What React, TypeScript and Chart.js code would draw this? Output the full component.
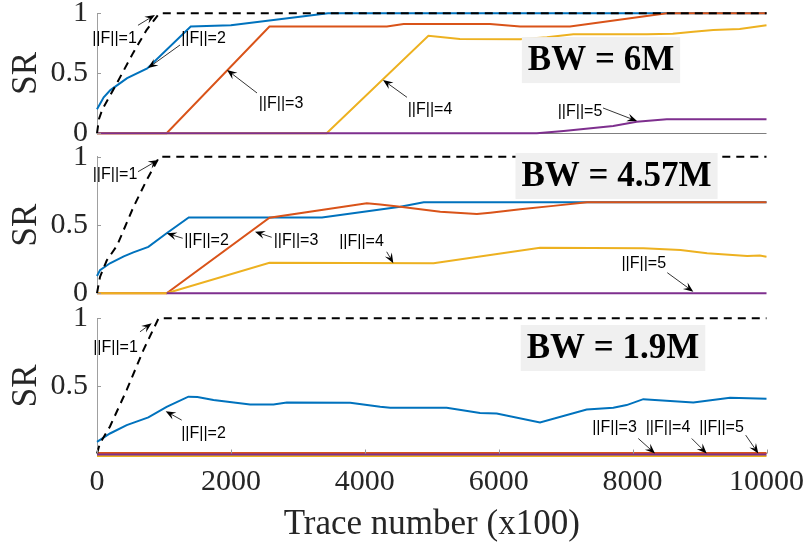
import React, { useEffect, useRef } from 'react';
import Chart from 'chart.js/auto';

// ---------- shared ----------
const X_MIN = 0;
const X_MAX = 10000;
const xTickValues = [0, 2000, 4000, 6000, 8000, 10000];
const yTickValues = [0, 0.5, 1];
const yTickValuesBottom = [0.5, 1];
const seriesColors = ['#000000', '#0072BD', '#D95319', '#EDB120', '#7E2F8E'];

// ---------- BW = 6M ----------
const bw6_f1_x = [0, 30, 80, 160, 270, 540, 740, 930, 10000];
const bw6_f1_y = [0, 0.12, 0.2, 0.28, 0.39, 0.67, 0.86, 1, 1];
const bw6_f2_x = [0, 100, 200, 450, 750, 1400, 2000, 3000, 3450, 10000];
const bw6_f2_y = [0.2, 0.3, 0.36, 0.46, 0.54, 0.89, 0.9, 0.97, 1, 1];
const bw6_f3_x = [0, 1040, 2576, 4330, 4580, 5870, 6320, 7065, 8510, 10000];
const bw6_f3_y = [0, 0, 0.89, 0.89, 0.91, 0.91, 0.89, 0.89, 1, 1];
const bw6_f4_x = [0, 3430, 4950, 5420, 6320, 6720, 7115, 8213, 8600, 8907, 9205, 9600, 10000];
const bw6_f4_y = [0, 0, 0.813, 0.786, 0.783, 0.8, 0.825, 0.825, 0.83, 0.847, 0.861, 0.87, 0.9];
const bw6_f5_x = [0, 6570, 6970, 7710, 8060, 8510, 10000];
const bw6_f5_y = [0, 0, 0.019, 0.061, 0.097, 0.117, 0.117];

// ---------- BW = 4.57M ----------
const bw457_f1_x = [0, 45, 145, 300, 543, 743, 931, 10000];
const bw457_f1_y = [0, 0.12, 0.24, 0.35, 0.63, 0.83, 1, 1];
const bw457_f2_x = [0, 45, 194, 400, 543, 767, 1040, 1370, 3360, 4530, 4880, 10000];
const bw457_f2_y = [0.127, 0.17, 0.22, 0.27, 0.3, 0.34, 0.44, 0.555, 0.555, 0.634, 0.666, 0.666];
const bw457_f3_x = [0, 1040, 2576, 4030, 4230, 4530, 5127, 5675, 5874, 6323, 6816, 7320, 10000];
const bw457_f3_y = [0, 0, 0.553, 0.66, 0.65, 0.634, 0.597, 0.58, 0.59, 0.615, 0.64, 0.666, 0.666];
const bw457_f4_x = [0, 1040, 2576, 5027, 6617, 8163, 8715, 9113, 9711, 9900, 10000];
const bw457_f4_y = [0, 0, 0.224, 0.22, 0.334, 0.329, 0.317, 0.293, 0.273, 0.276, 0.268];
const bw457_f5_x = [1040, 10000];
const bw457_f5_y = [0, 0];

// ---------- BW = 1.9M ----------
const bw19_f1_x = [0, 45, 194, 444, 693, 920, 10000];
const bw19_f1_y = [0, 0.076, 0.2, 0.47, 0.765, 1, 1];
const bw19_f2_x = [0, 194, 444, 767, 1040, 1365, 1500, 1740, 2287, 2636, 2835, 3782, 4230, 4380, 5223, 5721, 5970, 6617, 7314, 7712, 7911, 8160, 8907, 9455, 10000];
const bw19_f2_y = [0.086, 0.148, 0.21, 0.267, 0.345, 0.42, 0.418, 0.395, 0.363, 0.363, 0.378, 0.375, 0.345, 0.338, 0.338, 0.3, 0.296, 0.23, 0.326, 0.338, 0.358, 0.402, 0.378, 0.412, 0.405];
const bw19_f3_x = [0, 10000];
const bw19_f3_y = [0.004, 0.004];
const bw19_f4_x = [0, 10000];
const bw19_f4_y = [-0.018, -0.018];
const bw19_f5_x = [0, 10000];
const bw19_f5_y = [-0.007, -0.007];

// ---------- annotations (data coordinates: text centre, arrow tail, arrow head) ----------
const bw6_labels = [
  { text: '||F||=1', tx: 261, ty: 0.786, fx: 612, fy: 0.9, hx: 866, hy: 0.986 },
  { text: '||F||=2', tx: 1591, ty: 0.79, fx: 1240, fy: 0.736, hx: 762, hy: 0.544 },
  { text: '||F||=3', tx: 2748, ty: 0.244, fx: 2390, fy: 0.336, hx: 1942, hy: 0.528 },
  { text: '||F||=4', tx: 4974, ty: 0.194, fx: 4630, fy: 0.3, hx: 4272, hy: 0.444 },
  { text: '||F||=5', tx: 7214, ty: 0.185, fx: 7558, fy: 0.211, hx: 8066, hy: 0.102 },
];
const bw457_labels = [
  { text: '||F||=1', tx: 269, ty: 0.866, fx: 612, fy: 0.89, hx: 916, hy: 0.976 },
  { text: '||F||=2', tx: 1636, ty: 0.383, fx: 1280, fy: 0.403, hx: 1041, hy: 0.439 },
  { text: '||F||=3', tx: 2972, ty: 0.383, fx: 2609, fy: 0.41, hx: 2360, hy: 0.451 },
  { text: '||F||=4', tx: 3951, ty: 0.375, fx: 4327, fy: 0.304, hx: 4426, hy: 0.22 },
  { text: '||F||=5', tx: 8166, ty: 0.214, fx: 8518, fy: 0.151, hx: 8907, hy: 0.012 },
];
const bw19_labels = [
  { text: '||F||=1', tx: 276, ty: 0.787, fx: 642, fy: 0.9, hx: 817, hy: 0.963 },
  { text: '||F||=2', tx: 1591, ty: 0.15, fx: 1265, fy: 0.247, hx: 1026, hy: 0.313 },
  { text: '||F||=3', tx: 7730, ty: 0.195, fx: 8085, fy: 0.111, hx: 8335, hy: 0 },
  { text: '||F||=4', tx: 8529, ty: 0.195, fx: 8883, fy: 0.111, hx: 9107, hy: 0 },
  { text: '||F||=5', tx: 9328, ty: 0.195, fx: 9689, fy: 0.136, hx: 9878, hy: 0 },
];
const bw6_box = { text: 'BW = 6M', x: 7528, y: 0.61 };
const bw457_box = { text: 'BW = 4.57M', x: 7760, y: 0.859 };
const bw19_box = { text: 'BW = 1.9M', x: 7707, y: 0.78 };

const zip = (xs: number[], ys: number[]) => xs.map((x, i) => ({ x, y: ys[i] }));

function makeDatasets(series: [number[], number[]][]) {
  // index 0 (||F||=1, dashed) drawn on top; then 5,4,3,2
  const order = [0, 4, 3, 2, 1];
  return order.map((k) => ({
    label: `||F||=${k + 1}`,
    data: zip(series[k][0], series[k][1]),
    borderColor: seriesColors[k],
    backgroundColor: seriesColors[k],
    borderWidth: 2,
    borderDash: k === 0 ? [8, 6] : [],
    pointRadius: 0,
    tension: 0,
    fill: false,
    clip: false as any,
  }));
}

function arrow(ctx: CanvasRenderingContext2D, x1: number, y1: number, x2: number, y2: number) {
  const ang = Math.atan2(y2 - y1, x2 - x1);
  const c = Math.cos(ang), s = Math.sin(ang);
  const L = 10, W = 4;
  const bx = x2 - L * c, by = y2 - L * s;
  const mx = x2 - 0.62 * L * c, my = y2 - 0.62 * L * s;
  const nx = -s, ny = c;
  ctx.beginPath();
  ctx.moveTo(x1, y1);
  ctx.lineTo(mx, my);
  ctx.stroke();
  ctx.beginPath();
  ctx.moveTo(x2, y2);
  ctx.lineTo(bx + nx * W, by + ny * W);
  ctx.lineTo(mx, my);
  ctx.lineTo(bx - nx * W, by - ny * W);
  ctx.closePath();
  ctx.fill();
}

const decorPlugin = {
  id: 'decor',
  beforeDatasetsDraw(chart: any, _a: any, o: any) {
    const { ctx, chartArea: ca } = chart;
    if (o.baseLine) {
      ctx.save();
      ctx.strokeStyle = '#7f7f7f';
      ctx.lineWidth = 1;
      ctx.beginPath();
      const yy = Math.round(ca.bottom) + 0.5;
      ctx.moveTo(ca.left, yy);
      ctx.lineTo(ca.right, yy);
      ctx.stroke();
      ctx.restore();
    }
  },
  afterDatasetsDraw(chart: any, _a: any, o: any) {
    const { ctx, chartArea: ca } = chart;
    const xs = chart.scales.x, ys = chart.scales.y;
    ctx.save();
    ctx.strokeStyle = '#9a9a9a';
    ctx.lineWidth = 1;
    for (const v of o.yTicks) {
      const py = Math.round(ys.getPixelForValue(v)) + 0.5;
      ctx.beginPath();
      ctx.moveTo(ca.left, py);
      ctx.lineTo(ca.left + 4, py);
      ctx.stroke();
    }
    if (o.xTicks) {
      for (const v of o.xTicks) {
        const px = Math.round(xs.getPixelForValue(v)) + 0.5;
        ctx.beginPath();
        ctx.moveTo(px, ca.bottom);
        ctx.lineTo(px, ca.bottom - 4);
        ctx.stroke();
      }
    }
    // BW box
    const b = o.box;
    ctx.font = 'bold 35px "Liberation Serif"';
    const tw = ctx.measureText(b.text).width;
    const cx = xs.getPixelForValue(b.x), cy = ys.getPixelForValue(b.y);
    ctx.fillStyle = '#f0f0f0';
    ctx.fillRect(cx - tw / 2 - 6, cy - 23, tw + 12, 46);
    ctx.fillStyle = '#000';
    ctx.textAlign = 'center';
    ctx.textBaseline = 'middle';
    ctx.fillText(b.text, cx, cy + 1);
    // labels + arrows
    ctx.font = '16px "Liberation Sans"';
    ctx.strokeStyle = '#000';
    ctx.fillStyle = '#000';
    ctx.lineWidth = 0.8;
    for (const l of o.labels) {
      ctx.fillText(l.text, xs.getPixelForValue(l.tx), ys.getPixelForValue(l.ty));
      arrow(ctx, xs.getPixelForValue(l.fx), ys.getPixelForValue(l.fy), xs.getPixelForValue(l.hx), ys.getPixelForValue(l.hy));
    }
    ctx.restore();
  },
};

const SERIF = 'Liberation Serif';
const TXT = '#262626';

interface PanelDef {
  series: [number[], number[]][];
  labels: any[];
  box: any;
  top: number;
  bottom: number;
  showX: boolean;
  yTicks: number[];
  baseLine: boolean;
}

const PLOT_LEFT = 97;
const PLOT_RIGHT = 766.5;
const W = 809;
const H = 543;

function makeConfig(p: PanelDef): any {
  const yt = p.yTicks;
  return {
    type: 'line',
    data: { datasets: makeDatasets(p.series) },
    plugins: [decorPlugin],
    options: {
      animation: false,
      responsive: false,
      devicePixelRatio: 1,
      events: [],
      layout: {
        padding: { left: 0, right: W - PLOT_RIGHT, top: p.top, bottom: p.showX ? 0 : H - p.bottom },
      },
      plugins: {
        legend: { display: false },
        tooltip: { enabled: false },
        decor: { labels: p.labels, box: p.box, yTicks: yt, xTicks: p.showX ? xTickValues : null, baseLine: p.baseLine },
      },
      scales: {
        x: p.showX
          ? {
              type: 'linear',
              min: X_MIN,
              max: X_MAX,
              afterBuildTicks: (axis: any) => {
                axis.ticks = xTickValues.map((v) => ({ value: v }));
              },
              ticks: {
                padding: 11,
                color: TXT,
                maxRotation: 0,
                autoSkip: false,
                font: { family: SERIF, size: 30 },
                callback: (v: any) => String(v),
              },
              grid: { display: false, drawTicks: false },
              border: { display: true, color: '#a0a0a0', width: 1 },
              title: {
                display: true,
                text: 'Trace number (x100)',
                color: TXT,
                font: { family: SERIF, size: 35, lineHeight: 1 },
                padding: { top: 0, bottom: 1 },
              },
              afterFit: (axis: any) => {
                axis.height = H - p.bottom;
                axis.paddingLeft = 0;
                axis.paddingRight = 0;
              },
            }
          : { type: 'linear', min: X_MIN, max: X_MAX, display: false },
        y: {
          min: 0,
          max: 1,
          afterBuildTicks: (axis: any) => {
            axis.ticks = yt.map((v) => ({ value: v }));
          },
          ticks: {
            padding: 9,
            color: TXT,
            font: { family: SERIF, size: 30 },
            callback: (v: any) => String(v),
          },
          grid: { display: false, drawTicks: false },
          border: { display: true, color: '#a0a0a0', width: 1 },
          title: {
            display: true,
            text: 'SR',
            color: TXT,
            font: { family: SERIF, size: 35, lineHeight: 1 },
            padding: { top: 9, bottom: 0 },
          },
          afterFit: (axis: any) => {
            axis.width = PLOT_LEFT;
            axis.paddingTop = 0;
            axis.paddingBottom = 0;
          },
        },
      },
    },
  };
}

const panels: PanelDef[] = [
  {
    series: [[bw6_f1_x, bw6_f1_y], [bw6_f2_x, bw6_f2_y], [bw6_f3_x, bw6_f3_y], [bw6_f4_x, bw6_f4_y], [bw6_f5_x, bw6_f5_y]],
    labels: bw6_labels,
    box: bw6_box,
    top: 13.3,
    bottom: 133.3,
    showX: false,
    yTicks: yTickValues,
    baseLine: true,
  },
  {
    series: [[bw457_f1_x, bw457_f1_y], [bw457_f2_x, bw457_f2_y], [bw457_f3_x, bw457_f3_y], [bw457_f4_x, bw457_f4_y], [bw457_f5_x, bw457_f5_y]],
    labels: bw457_labels,
    box: bw457_box,
    top: 156.7,
    bottom: 293.3,
    showX: false,
    yTicks: yTickValues,
    baseLine: false,
  },
  {
    series: [[bw19_f1_x, bw19_f1_y], [bw19_f2_x, bw19_f2_y], [bw19_f3_x, bw19_f3_y], [bw19_f4_x, bw19_f4_y], [bw19_f5_x, bw19_f5_y]],
    labels: bw19_labels,
    box: bw19_box,
    top: 318.3,
    bottom: 453.5,
    showX: true,
    yTicks: yTickValuesBottom,
    baseLine: false,
  },
];

function Panel({ def }: { def: PanelDef }) {
  const ref = useRef<HTMLCanvasElement | null>(null);
  useEffect(() => {
    if (!ref.current) return;
    const chart = new Chart(ref.current, makeConfig(def));
    return () => chart.destroy();
  }, [def]);
  return (
    <canvas
      ref={ref}
      width={W}
      height={H}
      style={{ position: 'absolute', left: 0, top: 0, width: W, height: H }}
    />
  );
}

export default function App() {
  return (
    <div style={{ position: 'absolute', left: 0, top: 0, width: W, height: H, background: '#ffffff', overflow: 'hidden' }}>
      {panels.map((p, i) => (
        <Panel key={i} def={p} />
      ))}
    </div>
  );
}
